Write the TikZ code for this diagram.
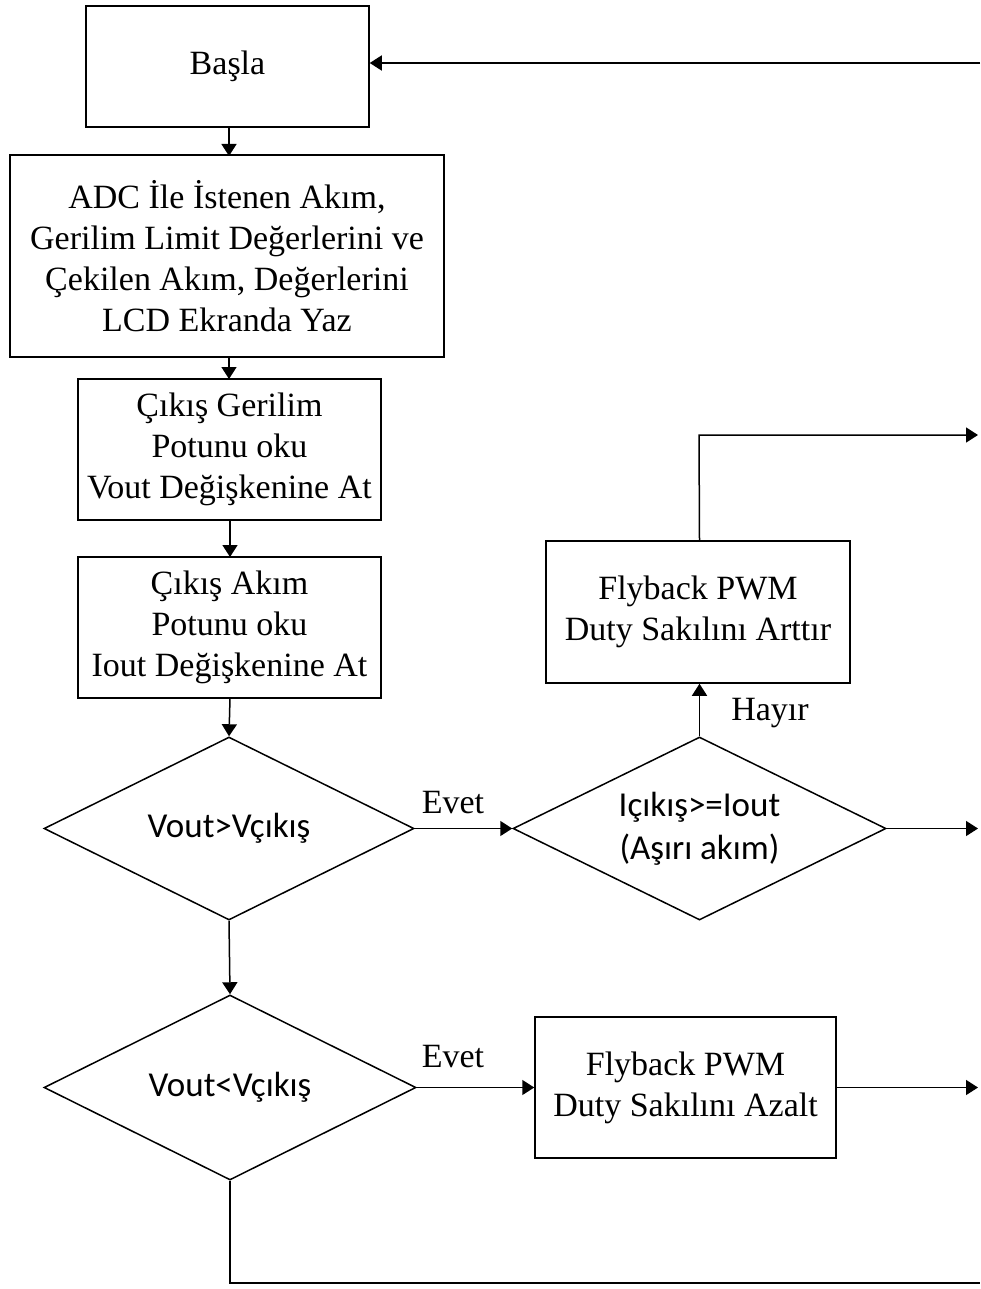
\documentclass[tikz,border=0pt]{standalone}
\usepackage{fontspec}
\setmainfont{Liberation Serif}
\newfontfamily\diafont{Carlito}
\usetikzlibrary{arrows.meta,shapes.geometric}
\begin{document}
\begin{tikzpicture}[x=1pt,y=-1pt,
  line width=1.5pt,
  arr/.style={-{Triangle[length=12pt,width=15pt]}},
  box/.style={draw,rectangle,inner sep=0pt,align=center,
    font=\fontsize{34}{41}\selectfont},
  dec/.style={draw,diamond,aspect=2,inner sep=0pt,align=center,
    font=\diafont\fontsize{35}{43}\selectfont},
  lbl/.style={font=\fontsize{34}{41}\selectfont}]
\useasboundingbox (0,0) rectangle (980,1289);

% process boxes
\node[box,minimum width=283pt,minimum height=121pt] (basla) at (227.5,66.5) {Başla};
\node[box,minimum width=434pt,minimum height=202pt] (adc) at (227,256)
  {ADC İle İstenen Akım,\\Gerilim Limit Değerlerini ve\\Çekilen Akım, Değerlerini\\LCD Ekranda Yaz};
\node[box,minimum width=303pt,minimum height=141pt] (vout) at (229.5,449.5)
  {Çıkış Gerilim\\Potunu oku\\Vout Değişkenine At};
\node[box,minimum width=303pt,minimum height=141pt] (iout) at (229.5,627.5)
  {Çıkış Akım\\Potunu oku\\Iout Değişkenine At};
\node[box,minimum width=304pt,minimum height=142pt] (artir) at (698,612)
  {Flyback PWM\\Duty Sakılını Arttır};
\node[box,minimum width=301pt,minimum height=141pt] (azalt) at (685.5,1087.5)
  {Flyback PWM\\Duty Sakılını Azalt};

% decisions
\node[dec,minimum width=370pt,minimum height=183pt] (d1) at (229,828.5) {Vout>Vçıkış};
\node[dec,minimum width=373pt,minimum height=183pt] (d2) at (699.5,828.5) {Içıkış>=Iout\\(Aşırı akım)};
\node[dec,minimum width=372pt,minimum height=185pt] (d3) at (230,1087.5) {Vout<Vçıkış};

% free ends at the right edge
\coordinate (r0) at (980,63);
\coordinate (r1) at (978,435);
\coordinate (r2) at (978,828.5);
\coordinate (r3) at (978,1087.5);
\coordinate (r4) at (980,1283);

% main chain
\draw[arr] (229,127) -- (229,156);
\draw[arr] (229,358) -- (229,379);
\draw[arr] (230,520) -- (230,557);
\draw[arr] (230,698) -- (d1.north);
\draw[arr] (d1.south) -- (d3.north);

% branches
\draw[arr] (d1.east) -- (d2.west);
\draw[arr] (d2.east) -- (r2);
\draw[arr] (d2.north) -- (d2.north |- artir.south);
\draw[arr] (d2.north |- artir.north) -- (699,435) -- (r1);
\draw[arr] (d3.east) -- (azalt.west);
\draw[arr] (azalt.east) -- (r3);
\draw (d3.south) -- (230,1283) -- (r4);
\draw[arr] (r0) -- (basla.east |- r0);

% labels
\node[lbl] (e1) at (453,803) {Evet};
\node[lbl] (e2) at (453,1057) {Evet};
\node[lbl] (h1) at (770,713) {Hayır};
\end{tikzpicture}
\end{document}
